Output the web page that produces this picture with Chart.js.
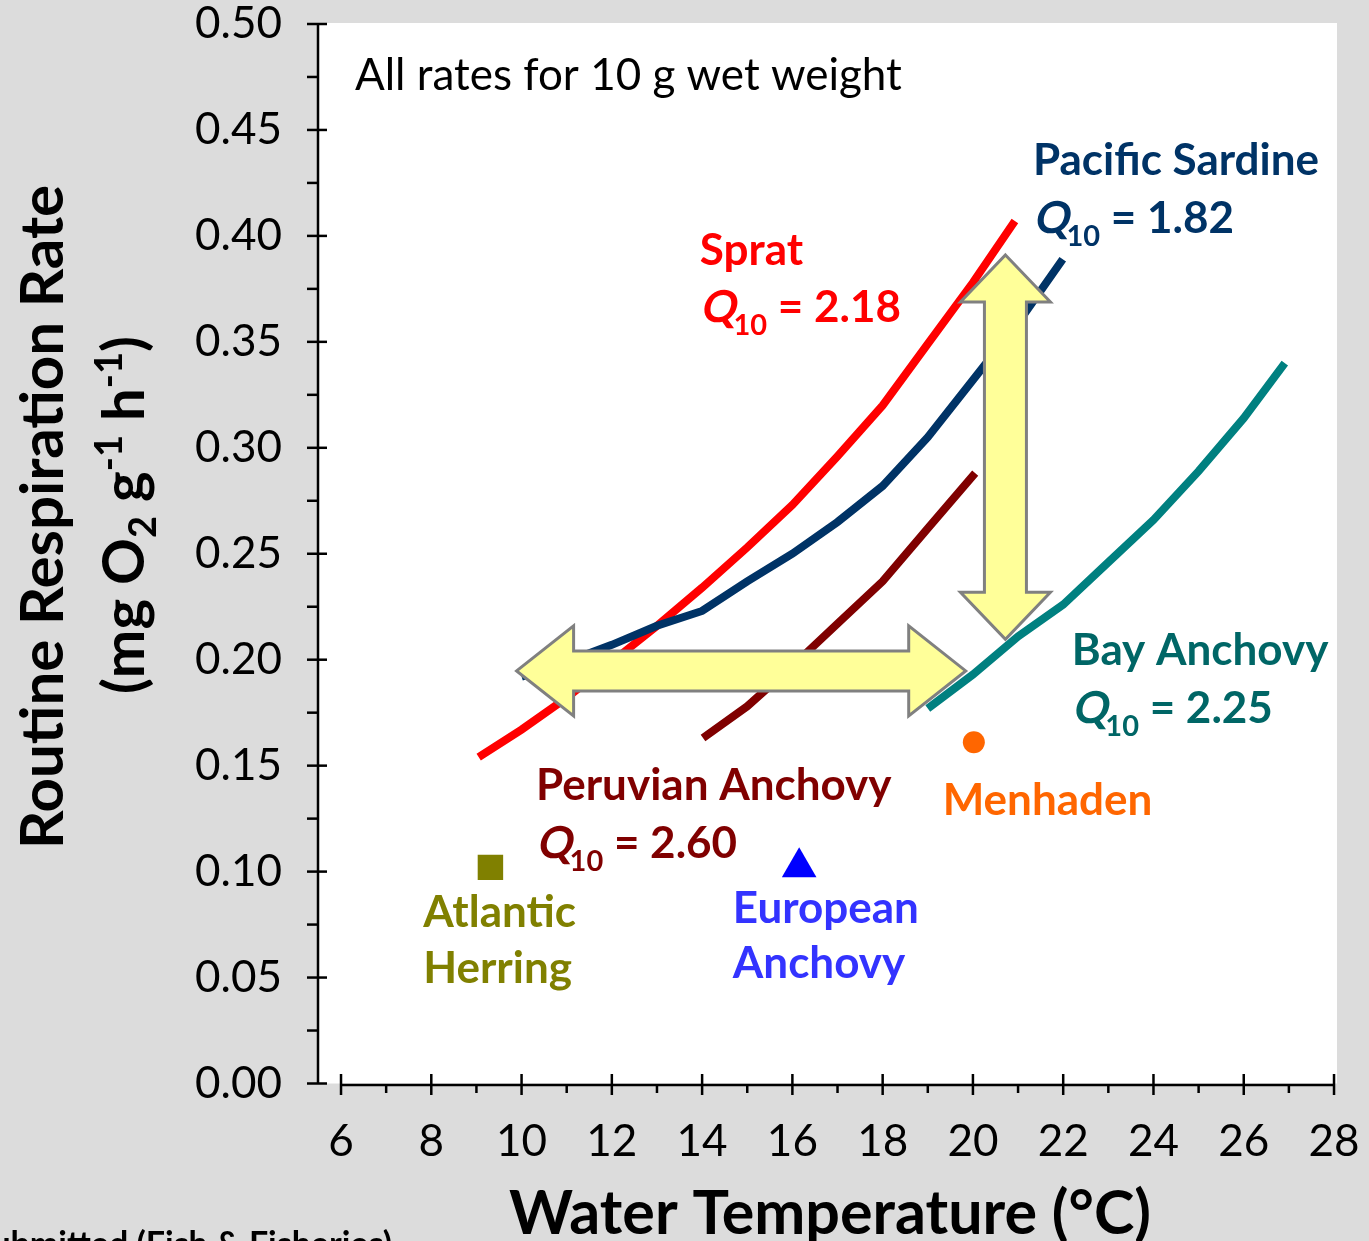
<!DOCTYPE html>
<html>
<head>
<meta charset="utf-8">
<script src="https://cdn.jsdelivr.net/npm/chart.js@4.4.1/dist/chart.umd.min.js"></script>
<style>
html, body { margin: 0; padding: 0; background: #dcdcdc; }
</style>
</head>
<body>
<canvas id="respChart" width="1369" height="1241"></canvas>
<script>
// routine respiration rate (mg O2 g-1 h-1) vs water temperature (°C), 10 g fish
var spratTemp = [9.05, 10, 11, 12, 13, 14, 15, 16, 17, 18, 19, 20, 20.93];
var spratRate = [0.154, 0.167, 0.182, 0.199, 0.216, 0.234, 0.253, 0.273, 0.296, 0.320, 0.349, 0.378, 0.407];

var sardineTemp = [10, 11, 12, 13, 14, 15, 16, 17, 18, 19, 20, 21, 21.99];
var sardineRate = [0.192, 0.199, 0.207, 0.216, 0.223, 0.237, 0.250, 0.265, 0.282, 0.305, 0.332, 0.359, 0.389];

var peruTemp = [14.02, 15, 16, 17, 18, 19, 20.05];
var peruRate = [0.163, 0.178, 0.197, 0.217, 0.237, 0.262, 0.288];

var bayTemp = [19, 20, 21, 22, 23, 24, 25, 26, 26.91];
var bayRate = [0.177, 0.193, 0.211, 0.226, 0.246, 0.266, 0.289, 0.314, 0.340];

// single measurements
var herringPt = [9.31, 0.102];
var euroPt = [16.15, 0.102];
var menhadenPt = [20.02, 0.161];

var xTicks = [6, 8, 10, 12, 14, 16, 18, 20, 22, 24, 26, 28];
var xMinor = [7, 9, 11, 13, 15, 17, 19, 21, 23, 25, 27];
var yTicks = [0, 0.05, 0.10, 0.15, 0.20, 0.25, 0.30, 0.35, 0.40, 0.45, 0.50];
var yMinor = [0.025, 0.075, 0.125, 0.175, 0.225, 0.275, 0.325, 0.375, 0.425, 0.475];

function pts(xs, ys){
	var out = [];
	for (var i = 0; i < xs.length; i++) out.push({x: xs[i], y: ys[i]});
	return out;
}

// species labels, anchored in data units
var notes = [
	{t: 13.95, r: 0.3863, text: 'Sprat', color: '#ff0000'},
	{t: 13.95, r: 0.3594, q: '2.18', color: '#ff0000'},
	{t: 21.33, r: 0.4287, text: 'Pacific Sardine', color: '#003366'},
	{t: 21.33, r: 0.4014, q: '1.82', color: '#003366'},
	{t: 22.19, r: 0.1975, text: 'Bay Anchovy', color: '#006666'},
	{t: 22.19, r: 0.1701, q: '2.25', color: '#006666'},
	{t: 10.32, r: 0.1338, text: 'Peruvian Anchovy', color: '#800000'},
	{t: 10.32, r: 0.1064, q: '2.60', color: '#800000'},
	{t: 19.33, r: 0.1267, text: 'Menhaden', color: '#ff6600'},
	{t: 7.82, r: 0.0739, text: 'Atlantic', color: '#808000'},
	{t: 7.82, r: 0.0474, text: 'Herring', color: '#808000'},
	{t: 14.68, r: 0.0757, text: 'European', color: '#3333ff'},
	{t: 14.68, r: 0.0498, text: 'Anchovy', color: '#3333ff'}
];

// double-headed arrows: from/to in data units, sizes in px
var arrows = [
	{from: [9.89, 0.1947], to: [19.84, 0.1947], shaft: 20, head: 45, len: 57},
	{from: [20.72, 0.391], to: [20.72, 0.2096], shaft: 21, head: 45, len: 47}
];

function dblArrow(ctx, x1, y1, x2, y2, shaft, head, len){
	var dx = x2 - x1, dy = y2 - y1;
	var L = Math.sqrt(dx * dx + dy * dy);
	ctx.save();
	ctx.translate(x1, y1);
	ctx.rotate(Math.atan2(dy, dx));
	ctx.beginPath();
	ctx.moveTo(0, 0);
	ctx.lineTo(len, -head);
	ctx.lineTo(len, -shaft);
	ctx.lineTo(L - len, -shaft);
	ctx.lineTo(L - len, -head);
	ctx.lineTo(L, 0);
	ctx.lineTo(L - len, head);
	ctx.lineTo(L - len, shaft);
	ctx.lineTo(len, shaft);
	ctx.lineTo(len, head);
	ctx.closePath();
	ctx.fillStyle = '#ffff99';
	ctx.fill();
	ctx.lineWidth = 3;
	ctx.strokeStyle = '#808080';
	ctx.lineJoin = 'miter';
	ctx.stroke();
	ctx.restore();
}

// "Q10 = x.xx" with slanted Q and subscript 10
function drawQ(ctx, x, y, val, color){
	ctx.fillStyle = color;
	ctx.textAlign = 'left';
	ctx.textBaseline = 'alphabetic';
	ctx.font = 'bold 44px Lato';
	ctx.save();
	ctx.translate(x, y);
	ctx.transform(1, 0, -0.21, 1, 0, 0);
	ctx.fillText('Q', 0, 0);
	ctx.restore();
	var w = ctx.measureText('Q').width - 2;
	ctx.font = 'bold 29px Lato';
	ctx.fillText('10', x + w, y + 13);
	w += ctx.measureText('10').width;
	ctx.font = 'bold 44px Lato';
	ctx.fillText(' = ' + val, x + w, y);
}

function line(ctx, x1, y1, x2, y2){
	ctx.beginPath();
	ctx.moveTo(x1, y1);
	ctx.lineTo(x2, y2);
	ctx.stroke();
}

var framePlugin = {
	id: 'frame',
	beforeDraw: function(chart){
		var ctx = chart.ctx, ca = chart.chartArea;
		ctx.save();
		ctx.fillStyle = '#dcdcdc';
		ctx.fillRect(0, 0, chart.width, chart.height);
		ctx.fillStyle = '#ffffff';
		ctx.fillRect(ca.left, ca.top - 1, ca.right - ca.left, ca.bottom - ca.top + 1);
		ctx.restore();
	},
	afterDatasetsDraw: function(chart){
		var ctx = chart.ctx, xa = chart.scales.x, ya = chart.scales.y;
		ctx.save();
		arrows.forEach(function(a){
			dblArrow(ctx, xa.getPixelForValue(a.from[0]), ya.getPixelForValue(a.from[1]),
				xa.getPixelForValue(a.to[0]), ya.getPixelForValue(a.to[1]), a.shaft, a.head, a.len);
		});

		ctx.fillStyle = '#000';
		ctx.font = '44px Lato';
		ctx.textAlign = 'left';
		ctx.textBaseline = 'alphabetic';
		ctx.fillText('All rates for 10 g wet weight', xa.getPixelForValue(6.31), ya.getPixelForValue(0.469));

		notes.forEach(function(n){
			var x = xa.getPixelForValue(n.t), y = ya.getPixelForValue(n.r);
			if (n.q) {
				drawQ(ctx, x, y, n.q, n.color);
			} else {
				ctx.fillStyle = n.color;
				ctx.font = 'bold 44px Lato';
				ctx.textAlign = 'left';
				ctx.fillText(n.text, x, y);
			}
		});
		ctx.restore();
	},
	afterDraw: function(chart){
		var ctx = chart.ctx, ca = chart.chartArea, xa = chart.scales.x, ya = chart.scales.y;
		ctx.save();
		ctx.strokeStyle = '#000';
		ctx.lineWidth = 2.5;
		// y axis
		line(ctx, ca.left, ya.getPixelForValue(0.5) - 1, ca.left, ya.getPixelForValue(0));
		yTicks.forEach(function(v){
			var p = ya.getPixelForValue(v);
			line(ctx, ca.left - 11, p, ca.left + 9, p);
		});
		yMinor.forEach(function(v){
			var p = ya.getPixelForValue(v);
			line(ctx, ca.left - 11, p, ca.left, p);
		});
		// x axis
		var y0 = ya.getPixelForValue(0) + 1.5;
		line(ctx, xa.getPixelForValue(6), y0, xa.getPixelForValue(28), y0);
		xTicks.forEach(function(v){
			var p = xa.getPixelForValue(v);
			line(ctx, p, y0 - 11, p, y0 + 10);
		});
		xMinor.forEach(function(v){
			var p = xa.getPixelForValue(v);
			line(ctx, p, y0, p, y0 + 8);
		});

		// axis titles
		ctx.fillStyle = '#000';
		ctx.textBaseline = 'alphabetic';
		ctx.textAlign = 'center';
		ctx.font = 'bold 61px Lato';
		ctx.fillText('Water Temperature (°C)', 830, 1234);

		ctx.font = 'bold 60px Lato';
		ctx.save();
		ctx.translate(63, 517);
		ctx.rotate(-Math.PI / 2);
		ctx.fillText('Routine Respiration Rate', 0, 0);
		ctx.restore();

		// (mg O2 g-1 h-1) with sub/superscripts
		var parts = [
			['(mg O', 0, 58], ['2', 12, 38], [' g', 0, 58], ['-1', -22, 38],
			[' h', 0, 58], ['-1', -22, 38], [')', 0, 58]
		];
		var total = 0;
		parts.forEach(function(p){ ctx.font = 'bold ' + p[2] + 'px Lato'; total += ctx.measureText(p[0]).width; });
		ctx.save();
		ctx.translate(144, 515);
		ctx.rotate(-Math.PI / 2);
		ctx.textAlign = 'left';
		var cx = -total / 2;
		parts.forEach(function(p){
			ctx.font = 'bold ' + p[2] + 'px Lato';
			ctx.fillText(p[0], cx, p[1]);
			cx += ctx.measureText(p[0]).width;
		});
		ctx.restore();

		ctx.textAlign = 'right';
		ctx.font = 'bold 34px Lato';
		ctx.fillText('Submitted (Fish & Fisheries)', 392, 1256);
		ctx.restore();
	}
};

var tickFont = {family: 'Lato', size: 44};

new Chart(document.getElementById('respChart'), {
	type: 'line',
	data: {
		datasets: [
			{label: 'Pacific Sardine', data: pts(sardineTemp, sardineRate), borderColor: '#003366', borderWidth: 8, pointRadius: 0, tension: 0},
			{label: 'Sprat', data: pts(spratTemp, spratRate), borderColor: '#ff0000', borderWidth: 8, pointRadius: 0, tension: 0},
			{label: 'Peruvian Anchovy', data: pts(peruTemp, peruRate), borderColor: '#800000', borderWidth: 8, pointRadius: 0, tension: 0},
			{label: 'Bay Anchovy', data: pts(bayTemp, bayRate), borderColor: '#008080', borderWidth: 8, pointRadius: 0, tension: 0},
			{label: 'Atlantic Herring', data: [{x: herringPt[0], y: herringPt[1]}], showLine: false,
				pointStyle: 'rect', pointRadius: 18, backgroundColor: '#808000', borderWidth: 0},
			{label: 'European Anchovy', data: [{x: euroPt[0], y: euroPt[1]}], showLine: false,
				pointStyle: 'triangle', pointRadius: 20, backgroundColor: '#0000ff', borderWidth: 0},
			{label: 'Menhaden', data: [{x: menhadenPt[0], y: menhadenPt[1]}], showLine: false,
				pointStyle: 'circle', pointRadius: 11, backgroundColor: '#ff6600', borderWidth: 0}
		]
	},
	options: {
		responsive: false,
		animation: false,
		layout: {padding: {left: 0, top: 24, right: 32, bottom: 0}},
		plugins: {legend: {display: false}, tooltip: {enabled: false}},
		scales: {
			x: {
				type: 'linear', min: 5.49, max: 28.066,
				grid: {display: false}, border: {display: false},
				afterBuildTicks: function(s){ s.ticks = xTicks.map(function(v){ return {value: v}; }); },
				afterFit: function(s){ s.height = 157.5; s.paddingLeft = 0; s.paddingRight = 0; },
				ticks: {font: tickFont, color: '#000', padding: 24, maxRotation: 0, autoSkip: false,
					callback: function(v){ return v; }}
			},
			y: {
				min: 0, max: 0.5,
				grid: {display: false}, border: {display: false},
				afterBuildTicks: function(s){ s.ticks = yTicks.map(function(v){ return {value: v}; }); },
				afterFit: function(s){ s.width = 318; s.paddingTop = 0; s.paddingBottom = 0; },
				ticks: {font: tickFont, color: '#000', padding: 28, autoSkip: false,
					callback: function(v){ return v.toFixed(2); }}
			}
		}
	},
	plugins: [framePlugin]
});
</script>
</body>
</html>
